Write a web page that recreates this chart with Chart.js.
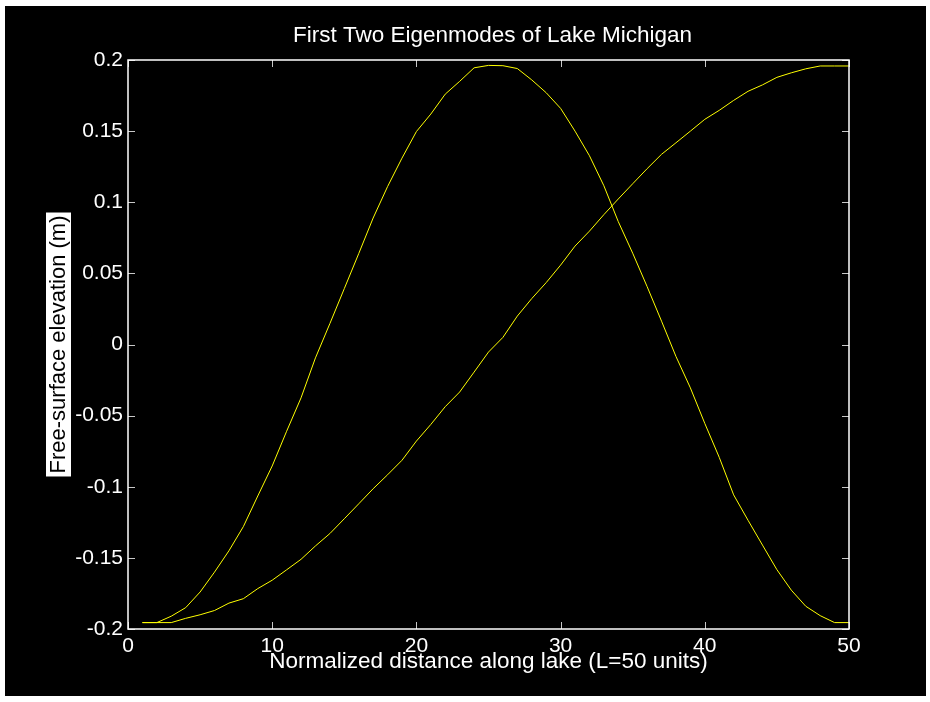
<!DOCTYPE html>
<html>
<head>
<meta charset="utf-8">
<script src="https://cdn.jsdelivr.net/npm/chart.js@4"></script>
<style>
  html, body { margin: 0; padding: 0; background: #fff; }
  #wrap { width: 930px; height: 702px; }
</style>
</head>
<body>
<div id="wrap"><canvas id="chart" width="930" height="702"></canvas></div>
<script>
//
// DATA
//

const distance = [1, 2, 3, 4, 5, 6, 7, 8, 9, 10, 11, 12, 13, 14, 15, 16, 17, 18, 19, 20,
  21, 22, 23, 24, 25, 26, 27, 28, 29, 30, 31, 32, 33, 34, 35, 36, 37, 38, 39, 40,
  41, 42, 43, 44, 45, 46, 47, 48, 49, 50];

// first mode (half wave, rises across the lake)
const modeOne = [-0.1955, -0.1955, -0.1955, -0.1925, -0.190, -0.187, -0.1818, -0.1787, -0.1716, -0.1657,
  -0.1584, -0.151, -0.1416, -0.1329, -0.1225, -0.112, -0.1014, -0.0916, -0.0814, -0.0679,
  -0.0562, -0.0437, -0.0334, -0.0194, -0.0053, 0.005, 0.020, 0.0323, 0.0435, 0.0558,
  0.0692, 0.0797, 0.0913, 0.1023, 0.113, 0.1236, 0.1337, 0.1418, 0.150, 0.1583,
  0.1646, 0.1716, 0.178, 0.1825, 0.1878, 0.191, 0.1938, 0.1958, 0.1958, 0.1958];

// second mode (full wave, peak mid-lake)
const modeTwo = [-0.1955, -0.1955, -0.191, -0.185, -0.174, -0.160, -0.145, -0.128, -0.1065, -0.0854,
  -0.061, -0.0375, -0.0094, 0.0147, 0.0393, 0.0639, 0.0889, 0.111, 0.131, 0.1497,
  0.162, 0.176, 0.185, 0.1945, 0.1962, 0.196, 0.194, 0.186, 0.177, 0.166,
  0.150, 0.1327, 0.1116, 0.0864, 0.0642, 0.0407, 0.0164, -0.0084, -0.0305, -0.0555,
  -0.0793, -0.1057, -0.1236, -0.141, -0.1583, -0.1727, -0.184, -0.1906, -0.1955, -0.1955];

const xTicks = [0, 10, 20, 30, 40, 50];
const xTickLabels = ["0", "10", "20", "30", "40", "50"];
const yTicks = [-0.2, -0.15, -0.1, -0.05, 0, 0.05, 0.1, 0.15, 0.2];
const yTickLabels = ["-0.2", "-0.15", "-0.1", "-0.05", "0", "0.05", "0.1", "0.15", "0.2"];

const FONT = "Liberation Sans, Arial, Helvetica, sans-serif";

//
// HELPER FUNCTIONS
//

function toPoints(values) {
  return distance.map((d, i) => ({ x: d, y: values[i] }));
}

// black figure, white box, matlab-style inward ticks, titles
const matlabFrame = {
  id: "matlabFrame",
  beforeDraw(chart) {
    const ctx = chart.ctx;
    ctx.save();
    ctx.fillStyle = "#000";
    ctx.fillRect(5, 6, 921, 690);
    ctx.restore();
  },
  afterDraw(chart) {
    const { ctx, chartArea: a, scales } = chart;
    ctx.save();

    // ticks inside the box, on all four sides
    ctx.strokeStyle = "#c8c8c8";
    ctx.lineWidth = 1;
    const len = 7;
    xTicks.forEach((v) => {
      const px = Math.round(scales.x.getPixelForValue(v)) + 0.5;
      ctx.beginPath();
      ctx.moveTo(px, a.bottom); ctx.lineTo(px, a.bottom - len);
      ctx.moveTo(px, a.top); ctx.lineTo(px, a.top + len);
      ctx.stroke();
    });
    yTicks.forEach((v) => {
      const py = Math.round(scales.y.getPixelForValue(v)) + 0.5;
      ctx.beginPath();
      ctx.moveTo(a.left, py); ctx.lineTo(a.left + len, py);
      ctx.moveTo(a.right, py); ctx.lineTo(a.right - len, py);
      ctx.stroke();
    });

    // box
    ctx.strokeStyle = "#fff";
    ctx.lineWidth = 1.5;
    ctx.strokeRect(a.left, a.top, a.right - a.left, a.bottom - a.top);

    // title
    ctx.fillStyle = "#fff";
    ctx.font = "22.5px " + FONT;
    ctx.textAlign = "center";
    ctx.textBaseline = "middle";
    ctx.fillText("First Two Eigenmodes of Lake Michigan", (a.left + a.right) / 2 + 4, 36);

    // y label, black text on a white strip
    ctx.font = "22px " + FONT;
    const label = "Free-surface elevation (m)";
    const cy = (a.top + a.bottom) / 2;
    ctx.translate(58, cy);
    ctx.rotate(-Math.PI / 2);
    const w = ctx.measureText(label).width;
    ctx.fillStyle = "#fff";
    ctx.fillRect(-w / 2 - 3, -12, w + 6, 25);
    ctx.fillStyle = "#000";
    ctx.fillText(label, 0, 1);
    ctx.restore();
  },
};

//
// CHART
//

new Chart(document.getElementById("chart"), {
  type: "line",
  data: {
    datasets: [
      {
        label: "Mode 1",
        data: toPoints(modeOne),
        borderColor: "#ffff00",
        borderWidth: 1,
        pointRadius: 0,
        tension: 0,
      },
      {
        label: "Mode 2",
        data: toPoints(modeTwo),
        borderColor: "#ffff00",
        borderWidth: 1,
        pointRadius: 0,
        tension: 0,
      },
    ],
  },
  options: {
    responsive: false,
    animation: false,
    layout: { padding: { left: 0, right: 81, top: 60, bottom: 0 } },
    plugins: {
      legend: { display: false },
      tooltip: { enabled: false },
    },
    scales: {
      x: {
        type: "linear",
        min: 0,
        max: 50,
        afterBuildTicks: (s) => { s.ticks = xTicks.map((v) => ({ value: v })); },
        afterFit: (s) => { s.height = 73; },
        grid: { display: false, drawTicks: false },
        border: { display: false },
        ticks: {
          color: "#fff",
          font: { size: 21, family: FONT },
          padding: 5,
          maxRotation: 0,
          callback: (v) => xTickLabels[xTicks.indexOf(v)],
        },
        title: {
          display: true,
          text: "Normalized distance along lake (L=50 units)",
          color: "#fff",
          font: { size: 22.5, family: FONT },
          padding: { top: 0, bottom: 27 },
        },
      },
      y: {
        type: "linear",
        min: -0.2,
        max: 0.2,
        afterBuildTicks: (s) => { s.ticks = yTicks.map((v) => ({ value: v })); },
        afterFit: (s) => { s.width = 128; },
        grid: { display: false, drawTicks: false },
        border: { display: false },
        ticks: {
          color: "#fff",
          font: { size: 21, family: FONT },
          padding: 5,
          callback: (v, i) => yTickLabels[i],
        },
      },
    },
  },
  plugins: [matlabFrame],
});
</script>
</body>
</html>
